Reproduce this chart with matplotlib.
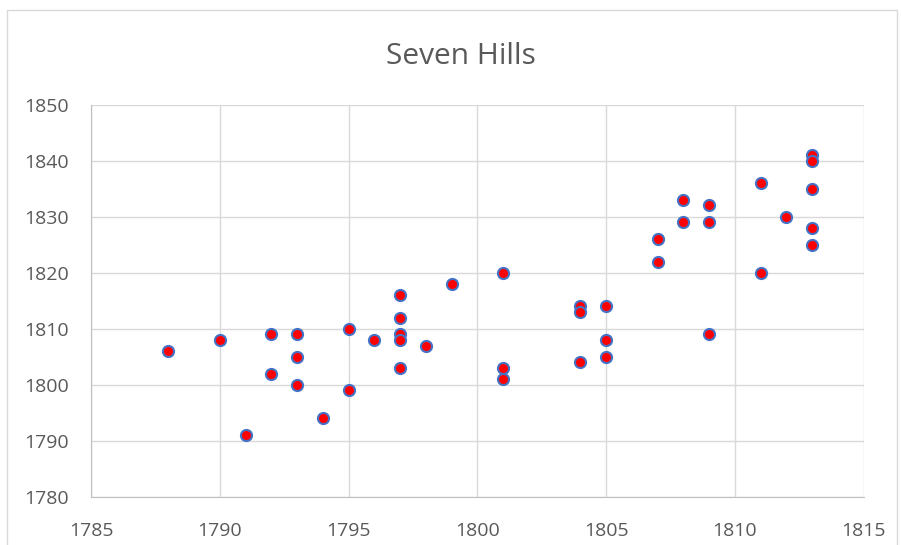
import matplotlib
matplotlib.use("Agg")
from matplotlib import pyplot as plt
from matplotlib.patches import Rectangle

# values
years_x = [1788, 1790, 1791, 1792, 1792, 1793, 1793, 1793, 1794, 1795, 1795,
           1796, 1797, 1797, 1797, 1797, 1797, 1798, 1799, 1801, 1801, 1801,
           1804, 1804, 1804, 1805, 1805, 1805, 1807, 1807, 1808, 1808, 1809,
           1809, 1809, 1811, 1811, 1812, 1813, 1813, 1813, 1813, 1813]
years_y = [1806, 1808, 1791, 1809, 1802, 1809, 1805, 1800, 1794, 1810, 1799,
           1808, 1816, 1812, 1809, 1808, 1803, 1807, 1818, 1820, 1803, 1801,
           1814, 1813, 1804, 1814, 1808, 1805, 1826, 1822, 1833, 1829, 1832,
           1829, 1809, 1836, 1820, 1830, 1841, 1840, 1835, 1828, 1825]
x_ticks = [1785, 1790, 1795, 1800, 1805, 1810, 1815]
y_ticks = [1780, 1790, 1800, 1810, 1820, 1830, 1840, 1850]
title = "Seven Hills"

plt.rcParams["font.family"] = ["Open Sans", "DejaVu Sans"]

fig = plt.figure(figsize=(9.01, 5.45), dpi=100)
# chart area border
fig.patches.append(Rectangle((7 / 901, -0.05), 890 / 901, 1 - 10 / 545 + 0.05,
                             transform=fig.transFigure, fill=False,
                             edgecolor="#d9d9d9", linewidth=1))

ax = fig.add_axes([0.101, 0.0886, 0.8576, 0.7193])
ax.plot(years_x, years_y, "o", color="#ff0000", markersize=8,
        markeredgecolor="#4472c4", markeredgewidth=1.5, zorder=3)

ax.set_xlim(x_ticks[0], x_ticks[-1])
ax.set_ylim(y_ticks[0], y_ticks[-1])
ax.set_xticks(x_ticks)
ax.set_yticks(y_ticks)
ax.grid(True, color="#d9d9d9", linewidth=1)
ax.set_axisbelow(True)
for side in ["top", "right"]:
    ax.spines[side].set_visible(False)
for side in ["left", "bottom"]:
    ax.spines[side].set_color("#bfbfbf")
ax.tick_params(length=0, labelsize=14, labelcolor="#595959", pad=16)
ax.tick_params(axis="x", pad=18)

fig.text(0.512, 0.897, title, ha="center", va="center", fontsize=21.5,
         color="#595959")

fig.savefig("out.png", dpi=100)
